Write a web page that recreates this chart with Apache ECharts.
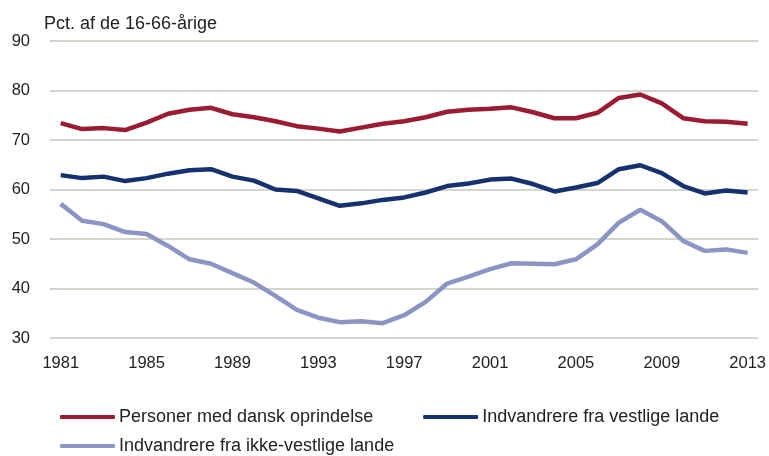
<!DOCTYPE html>
<html>
<head>
<meta charset="utf-8">
<script src="https://cdn.jsdelivr.net/npm/echarts@6/dist/echarts.min.js"></script>
<style>
  html, body { margin: 0; padding: 0; background: #fff; }
  #chart { width: 769px; height: 456px; }
</style>
</head>
<body>
<div id="chart"></div>
<script>
// år 1981-2013
const years = [];
for (let y = 1981; y <= 2013; y++) years.push(String(y));

const dansk = [73.4, 72.2, 72.4, 72.0, 73.5, 75.3, 76.1, 76.5, 75.2, 74.6, 73.8,
  72.8, 72.3, 71.7, 72.5, 73.3, 73.8, 74.6, 75.7, 76.1, 76.3, 76.6,
  75.6, 74.4, 74.4, 75.5, 78.5, 79.2, 77.4, 74.4, 73.8, 73.7, 73.3];
const vestlige = [62.9, 62.3, 62.6, 61.7, 62.3, 63.2, 63.9, 64.1, 62.6, 61.8, 60.0,
  59.7, 58.2, 56.7, 57.2, 57.9, 58.4, 59.4, 60.7, 61.2, 62.0, 62.2,
  61.1, 59.6, 60.4, 61.3, 64.1, 64.9, 63.3, 60.7, 59.2, 59.8, 59.4];
const ikkeVestlige = [57.1, 53.7, 53.0, 51.4, 51.0, 48.6, 45.9, 45.0, 43.1, 41.2, 38.5,
  35.7, 34.1, 33.2, 33.4, 33.0, 34.6, 37.3, 41.0, 42.4, 43.9, 45.1,
  45.0, 44.9, 45.9, 48.9, 53.3, 55.9, 53.6, 49.6, 47.6, 47.9, 47.2];

const names = ["Personer med dansk oprindelse", "Indvandrere fra vestlige lande", "Indvandrere fra ikke-vestlige lande"];
const colors = ["#9b1b33", "#16326e", "#8b95c4"];
const font = "'Liberation Sans', Arial, sans-serif";

const chart = echarts.init(document.getElementById("chart"));

const mkSeries = (i, data) => ({
  name: names[i],
  type: "line",
  data: data,
  showSymbol: false,
  symbol: "none",
  lineStyle: { width: 4.5, color: colors[i] },
  itemStyle: { color: colors[i] },
  z: 3 - i,
});

const legendBase = {
  icon: "roundRect",
  itemWidth: 55,
  itemHeight: 4,
  itemGap: 50,
  width: 700,
  padding: 0,
  textStyle: { fontFamily: font, fontSize: 18, color: "#222", padding: [0, 0, 0, -1] },
};

chart.setOption({
  animation: false,
  color: colors,
  title: {
    text: "Pct. af de 16-66-årige",
    left: 44,
    top: 15,
    padding: 0,
    textStyle: { fontFamily: font, fontSize: 18, fontWeight: "normal", color: "#222" },
  },
  grid: { left: 50, right: 10, top: 41, bottom: 118 },
  legend: [
    Object.assign({}, legendBase, { data: [names[0], names[1]], left: 60, top: 408 }),
    Object.assign({}, legendBase, { data: [names[2]], left: 60, top: 437 }),
  ],
  xAxis: {
    type: "category",
    data: years,
    boundaryGap: true,
    axisLine: { show: false },
    axisTick: { show: false },
    axisLabel: {
      interval: 3,
      margin: 17,
      fontFamily: font,
      fontSize: 16.5,
      color: "#222",
    },
  },
  yAxis: {
    type: "value",
    min: 30,
    max: 90,
    interval: 10,
    axisLine: { show: false },
    axisTick: { show: false },
    axisLabel: { margin: 20, fontFamily: font, fontSize: 16.5, color: "#222" },
    splitLine: { lineStyle: { color: "#c9c7bb", width: 1.5 } },
  },
  series: [mkSeries(0, dansk), mkSeries(1, vestlige), mkSeries(2, ikkeVestlige)],
});
</script>
</body>
</html>
